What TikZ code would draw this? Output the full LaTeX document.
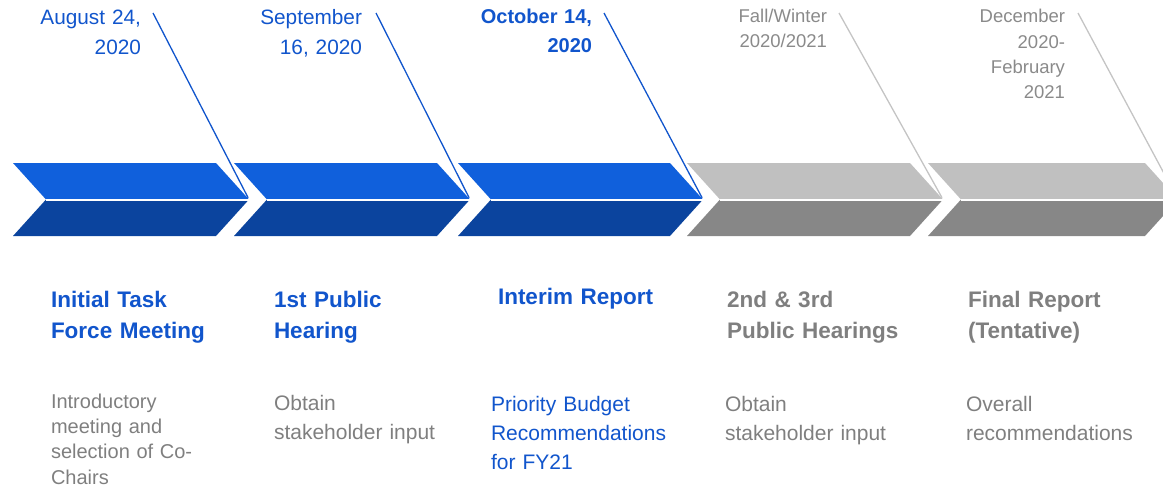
\documentclass[tikz,border=0pt]{standalone}
\usepackage{fontspec}
\setmainfont{Liberation Sans}
\definecolor{topblue}{HTML}{1060DC}
\definecolor{botblue}{HTML}{0B449E}
\definecolor{topgray}{HTML}{C0C0C0}
\definecolor{botgray}{HTML}{878787}
\definecolor{txtblue}{HTML}{1155CC}
\definecolor{txtgray}{HTML}{7F7F7F}
\definecolor{dategray}{HTML}{8A8A8A}
\definecolor{linegray}{HTML}{C4C4C4}
\tikzset{
  lbl/.style={inner sep=0pt, outer sep=0pt, text width=260pt, align=left, anchor=base west},
  datelbl/.style={inner sep=0pt, outer sep=0pt, text width=200pt, align=right, anchor=base east},
  titletxt/.style={lbl, font=\fontsize{22.5}{31.5}\selectfont\bfseries},
  desctxt/.style={lbl, font=\fontsize{21}{29.5}\selectfont},
  datetxt/.style={datelbl, font=\fontsize{20.8}{30}\selectfont},
  blueline/.style={draw=txtblue, line width=1.3pt, shorten >=2pt},
  grayline/.style={draw=linegray, line width=1.3pt, shorten >=2pt}
}
\begin{document}
\begin{tikzpicture}[x=1pt,y=-1pt]
\useasboundingbox (0,0) rectangle (1163,487);
\clip (0,0) rectangle (1163,487);
% chevrons
\foreach \L/\R/\ct/\cb [count=\i] in {13/216/topblue/botblue, 234/437/topblue/botblue, 458/670/topblue/botblue, 687/910/topgray/botgray, 928/1145/topgray/botgray}{
  \fill[\ct] (\L,163) -- (\R,163) -- (\R+33,199.5) -- (\L+33,199.5) -- cycle;
  \fill[\cb] (\L+33,199.5) -- (\R+33,199.5) -- (\R,236) -- (\L,236) -- cycle;
  \draw[white, line width=2pt] (\L+33,199.5) -- (\R+34,199.5);
  \coordinate (tip\i) at (\R+33,199.5);
}
% dates
\node[datetxt, text=txtblue] (d1) at (141,25) {August 24,\\2020};
\node[datetxt, text=txtblue] (d2) at (362,25) {September\\16, 2020};
\node[datelbl, font=\fontsize{20}{29}\selectfont\bfseries, text=txtblue] (d3) at (592,24) {October 14,\\2020};
\node[datelbl, font=\fontsize{18.5}{25}\selectfont, text=dategray] (d4) at (827,23) {Fall/Winter\\2020/2021};
\node[datelbl, font=\fontsize{18.5}{25.3}\selectfont, text=dategray] (d5) at (1065,23) {December\\2020-\\February\\2021};
% connector start points
\coordinate (s1) at (153,13);
\coordinate (s2) at (376,13);
\coordinate (s3) at (604,13);
\coordinate (s4) at (839,13);
\coordinate (s5) at (1078,13);
\draw[blueline] (s1) -- (tip1);
\draw[blueline] (s2) -- (tip2);
\draw[blueline] (s3) -- (tip3);
\draw[grayline] (s4) -- (tip4);
\draw[grayline] (s5) -- (tip5);
% titles
\node[titletxt, text=txtblue] (t1) at (51,307) {Initial Task\\Force Meeting};
\node[titletxt, text=txtblue] (t2) at (274,307) {1st Public\\Hearing};
\node[titletxt, text=txtblue] (t3) at (498,304) {Interim Report};
\node[titletxt, text=txtgray] (t4) at (727,307) {2nd \& 3rd\\Public Hearings};
\node[titletxt, text=txtgray] (t5) at (968,307) {Final Report\\(Tentative)};
% descriptions
\node[lbl, font=\fontsize{20}{25.2}\selectfont, text=txtgray] (p1) at (51,408.5) {Introductory\\meeting and\\selection of Co-\\Chairs};
\node[desctxt, text=txtgray] (p2) at (274,410) {Obtain\\stakeholder input};
\node[desctxt, font=\fontsize{21}{29}\selectfont, text=txtblue] (p3) at (491,411) {Priority Budget\\Recommendations\\for FY21};
\node[desctxt, text=txtgray] (p4) at (725,411) {Obtain\\stakeholder input};
\node[desctxt, text=txtgray] (p5) at (966,411) {Overall\\recommendations};
\end{tikzpicture}
\end{document}
